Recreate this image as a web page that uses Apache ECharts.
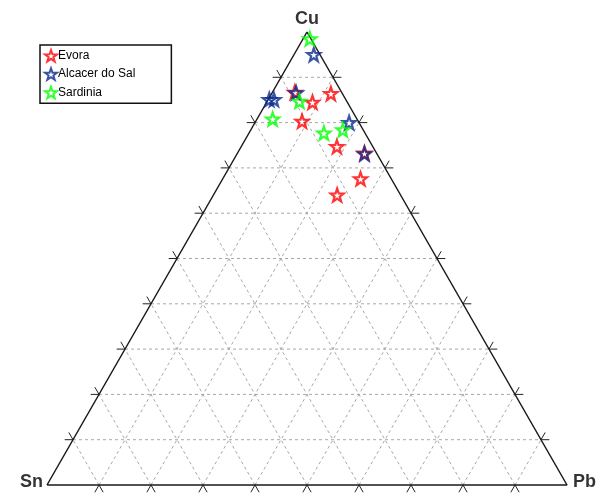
<!doctype html>
<html lang="en">
<head>
    <meta charset="UTF-8">
    <title>Cu-Sn-Pb ternary</title>
    <style>
        html, body { margin: 0; padding: 0; background: #fff; }
        #main { width: 603px; height: 495px; }
    </style>
    <script src="https://cdn.jsdelivr.net/npm/echarts@6/dist/echarts.min.js"></script>
</head>
<body>
    <div id="main"></div>
    <script>
        // compositions in % (Cu, Sn, Pb)
        var evoraCu = [86.7, 86.4, 84.5, 80.3, 74.7, 67.6, 64.0, 73.3];
        var evoraSn = [9.0, 2.2, 6.7, 10.8, 6.9, 5.9, 12.2, 2.3];
        var evoraPb = [4.3, 11.4, 8.8, 8.9, 18.4, 26.5, 23.8, 24.4];

        var alcacerCu = [95.0, 85.1, 85.1, 86.6, 80.0, 73.1];
        var alcacerSn = [1.2, 14.7, 13.8, 8.8, 1.9, 2.4];
        var alcacerPb = [3.8, 0.2, 1.1, 4.6, 18.1, 24.5];

        var sardiniaCu = [98.5, 84.7, 80.8, 77.7, 78.4];
        var sardiniaSn = [0.2, 9.1, 16.2, 7.9, 3.9];
        var sardiniaPb = [1.3, 6.2, 3.0, 14.4, 17.7];

        var vertexNames = ['Cu', 'Sn', 'Pb'];
        var gridLevels = [0.1, 0.2, 0.3, 0.4, 0.5, 0.6, 0.7, 0.8, 0.9];

        var H = Math.sqrt(3) / 2;
        var STAR = 'path://M0,-10L2.35,-3.24L9.51,-3.09L3.8,1.24L5.88,8.09L0,4L-5.88,8.09L-3.8,1.24L-9.51,-3.09L-2.35,-3.24Z';

        // ternary -> cartesian (Sn bottom-left, Pb bottom-right, Cu top)
        function toXY(cu, sn, pb) {
            var s = cu + sn + pb;
            cu = cu / s; pb = pb / s;
            return [pb + cu / 2, cu * H];
        }

        function points(cu, sn, pb) {
            var out = [];
            for (var i = 0; i < cu.length; i++) out.push(toXY(cu[i], sn[i], pb[i]));
            return out;
        }

        function segment(a, b, style) {
            return {
                type: 'line', data: [a, b], symbol: 'none', silent: true, clip: false,
                lineStyle: style, z: 1, animation: false
            };
        }

        var series = [];
        var gridStyle = { color: '#a8a8a8', width: 1, type: [3, 3] };
        var tickStyle = { color: '#222', width: 1 };
        var TL = 0.016;

        gridLevels.forEach(function (k) {
            // constant Cu (horizontal)
            series.push(segment(toXY(k, 1 - k, 0), toXY(k, 0, 1 - k), gridStyle));
            // constant Pb
            series.push(segment(toXY(0, 1 - k, k), toXY(1 - k, 0, k), gridStyle));
            // constant Sn
            series.push(segment(toXY(0, k, 1 - k), toXY(1 - k, k, 0), gridStyle));

            var p;
            // bottom edge ticks
            p = toXY(0, 1 - k, k);
            series.push(segment(p, [p[0] - TL / 2, p[1] - TL * H], tickStyle));
            series.push(segment(p, [p[0] + TL / 2, p[1] - TL * H], tickStyle));
            // left edge ticks
            p = toXY(k, 1 - k, 0);
            series.push(segment(p, [p[0] - TL, p[1]], tickStyle));
            series.push(segment(p, [p[0] - TL / 2, p[1] + TL * H], tickStyle));
            // right edge ticks
            p = toXY(k, 0, 1 - k);
            series.push(segment(p, [p[0] + TL, p[1]], tickStyle));
            series.push(segment(p, [p[0] + TL / 2, p[1] + TL * H], tickStyle));
        });

        // triangle outline
        var vCu = toXY(1, 0, 0), vSn = toXY(0, 1, 0), vPb = toXY(0, 0, 1);
        series.push({
            type: 'line', data: [vSn, vPb, vCu, vSn], symbol: 'none', silent: true, clip: false,
            lineStyle: { color: '#1a1a1a', width: 1.5 }, z: 2, animation: false
        });

        // vertex labels
        var labelPos = ['top', 'left', 'right'];
        var labelDist = [4, 4, 6];
        var labelOff = [[0, 0], [0, -3], [0, -3]];
        series.push({
            type: 'scatter', symbolSize: 0, silent: true, clip: false, animation: false,
            data: [vCu, vSn, vPb].map(function (v, i) {
                return {
                    value: v,
                    label: {
                        show: true, formatter: vertexNames[i], position: labelPos[i],
                        distance: labelDist[i], offset: labelOff[i],
                        fontFamily: 'Liberation Sans', fontWeight: 'bold', fontSize: 18, color: '#000'
                    }
                };
            })
        });

        function group(name, color, data) {
            return {
                name: name, type: 'scatter', symbol: STAR, symbolSize: [13, 13], clip: false,
                data: data, z: 5, animation: false,
                itemStyle: { color: 'rgba(0,0,0,0)', borderColor: color, borderWidth: 2.2 }
            };
        }

        series.push(group('Evora', '#ff0000', points(evoraCu, evoraSn, evoraPb)));
        series.push(group('Alcacer do Sal', '#0a2a8f', points(alcacerCu, alcacerSn, alcacerPb)));
        series.push(group('Sardinia', '#00ff00', points(sardiniaCu, sardiniaSn, sardiniaPb)));

        var option = {
            animation: false,
            backgroundColor: '#fff',
            grid: { left: 47, top: 32, width: 520, height: 453 },
            xAxis: { type: 'value', min: 0, max: 1, show: false },
            yAxis: { type: 'value', min: 0, max: H, show: false },
            legend: {
                data: ['Evora', 'Alcacer do Sal', 'Sardinia'],
                orient: 'vertical', left: 40, top: 45,
                padding: [4, 36, 4, 4],
                itemWidth: 12, itemHeight: 12, itemGap: 5,
                borderColor: '#111', borderWidth: 1.5,
                textStyle: { fontFamily: 'Liberation Sans', fontSize: 12, color: '#000', padding: [0, 0, 0, -4] }
            },
            series: series
        };

        var myChart = echarts.init(document.getElementById('main'));
        myChart.setOption(option);
    </script>
</body>
</html>
